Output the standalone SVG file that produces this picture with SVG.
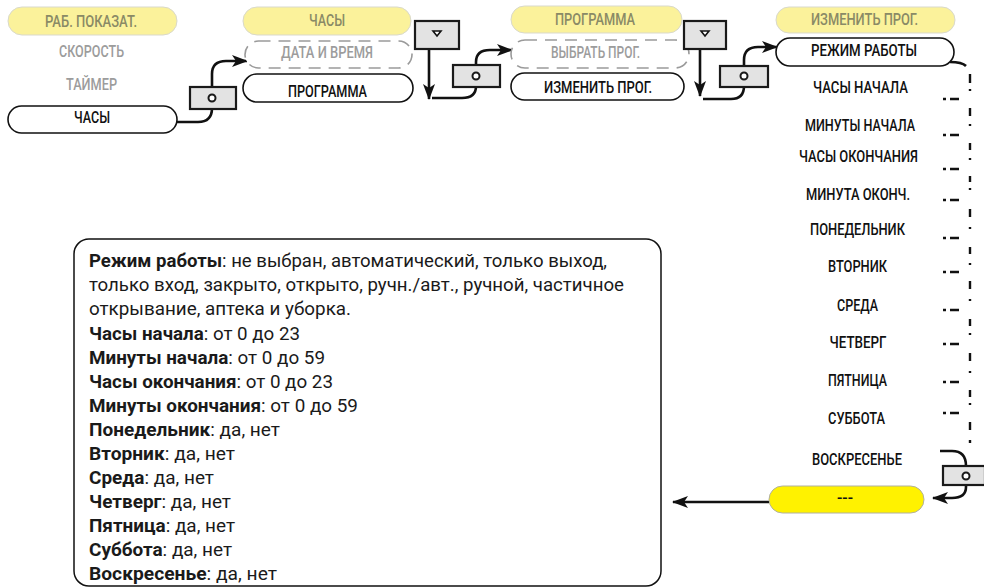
<svg xmlns="http://www.w3.org/2000/svg" width="984" height="588" viewBox="0 0 984 588">
<style>
.lbl{font-family:Roboto,"Liberation Sans",sans-serif;font-size:16px;font-weight:500;text-anchor:middle;fill:#111}
.yl{fill:#8a8a66}
.gr{fill:#9c9c9c}
.py{fill:#fbf29b;stroke:#d9d9cc;stroke-width:1}
.pw{fill:#fff;stroke:#111;stroke-width:1.6}
.pd{fill:#fff;stroke:#9a9a9a;stroke-width:1.6;stroke-dasharray:12 8}
.btn{fill:#e3e3e3;stroke:#1a1a1a;stroke-width:2.2}
.dot{fill:#fff;stroke:#1a1a1a;stroke-width:2}
.con{fill:none;stroke:#111;stroke-width:2.6}
.dsh{fill:none;stroke:#111;stroke-width:2.4}
.tx{font-family:Roboto,"Liberation Sans",sans-serif;font-size:18px;fill:#1a1a1a}
.tx tspan.b{font-weight:700}
</style>
<defs>
<marker id="ah" markerUnits="userSpaceOnUse" markerWidth="18" markerHeight="14" refX="15" refY="6" orient="auto">
<path d="M0,0 L16,6 L0,12 L4,6 z" fill="#111"/>
</marker>
</defs>

<g id="connectors">
<path class="con" d="M177,122 H198 Q212,122 212,108 V74 Q212,61 226,61 H247" marker-end="url(#ah)"/>
<path class="con" d="M429,49 V99" marker-end="url(#ah)"/>
<path class="con" d="M432,98 H462 Q476,98 476,86 V62 Q476,50 490,50 H512" marker-end="url(#ah)"/>
<path class="con" d="M700,49 V96" marker-end="url(#ah)"/>
<path class="con" d="M703,99 H731 Q744,99 744,86 V60 Q744,47 758,47 H777" marker-end="url(#ah)"/>
<path class="con" d="M950,62 Q962,62 966,66"/>
<path class="dsh" d="M970,74 V83 M970,89 V91 M943,99 h3 M950,99 h9
M970,108 V116 M970,124 V126 M943,135 h3 M950,135 h9
M970,143 V150 M970,158 V160 M943,169 h3 M950,169 h9
M970,176 V182 M970,188 V190 M943,200 h3 M950,200 h9
M970,209 V217 M970,227 V229 M943,238 h3 M950,238 h9
M970,247 V254 M970,263 V265 M943,272 h3 M950,272 h9
M970,281 V289 M970,299 V301 M943,310 h3 M950,310 h9
M970,319 V326 M970,333 V335 M943,344 h3 M950,344 h9
M970,353 V361 M970,371 V373 M943,382 h3 M950,382 h9
M970,390 V397 M970,403 V405 M943,413 h3 M950,413 h9
M970,422 V430 M970,440 V443"/>
<path class="con" d="M940,451 H952 Q966,451 966,466"/>
<path class="con" d="M966,485 V487 Q966,498 952,498 H933" marker-end="url(#ah)"/>
<path class="con" d="M769,502 H673" marker-end="url(#ah)"/>
</g>

<g id="n-rab-pokazat"><rect class="py" x="8" y="7" width="169" height="28" rx="14"/><text class="lbl yl" x="91" y="26.5" textLength="92" lengthAdjust="spacingAndGlyphs">РАБ. ПОКАЗАТ.</text></g>
<g id="n-skorost"><text class="lbl gr" x="91.5" y="57" textLength="65" lengthAdjust="spacingAndGlyphs">СКОРОСТЬ</text></g>
<g id="n-taimer"><text class="lbl gr" x="91.5" y="90" textLength="51" lengthAdjust="spacingAndGlyphs">ТАЙМЕР</text></g>
<g id="n-chasy1"><rect class="pw" x="8" y="106" width="169" height="27" rx="13.5"/><text class="lbl" x="92" y="122.5" textLength="36" lengthAdjust="spacingAndGlyphs">ЧАСЫ</text></g>

<g id="n-chasy2"><rect class="py" x="243" y="7" width="168" height="28" rx="14"/><text class="lbl yl" x="327" y="26" textLength="36" lengthAdjust="spacingAndGlyphs">ЧАСЫ</text></g>
<g id="n-data"><rect class="pd" x="245" y="41" width="167" height="27" rx="13.5"/><text class="lbl gr" x="327" y="58" textLength="92" lengthAdjust="spacingAndGlyphs">ДАТА И ВРЕМЯ</text></g>
<g id="n-programma2"><rect class="pw" x="243" y="74" width="170" height="28" rx="14"/><text class="lbl" x="327.5" y="97" textLength="79" lengthAdjust="spacingAndGlyphs">ПРОГРАММА</text></g>

<g id="n-programma3"><rect class="py" x="511" y="6" width="171" height="27" rx="13.5"/><text class="lbl yl" x="595" y="25" textLength="80" lengthAdjust="spacingAndGlyphs">ПРОГРАММА</text></g>
<g id="n-vybrat"><rect class="pd" x="511" y="40" width="178" height="28" rx="14"/><text class="lbl gr" x="595.5" y="58" textLength="89" lengthAdjust="spacingAndGlyphs">ВЫБРАТЬ ПРОГ.</text></g>
<g id="n-izmenit3"><rect class="pw" x="511" y="73" width="173" height="27" rx="13.5"/><text class="lbl" x="598" y="93" textLength="108" lengthAdjust="spacingAndGlyphs">ИЗМЕНИТЬ ПРОГ.</text></g>

<g id="n-izmenit4"><rect class="py" x="776" y="7" width="179" height="26" rx="13"/><text class="lbl yl" x="864.5" y="24.5" textLength="107" lengthAdjust="spacingAndGlyphs">ИЗМЕНИТЬ ПРОГ.</text></g>
<g id="n-rezhim"><rect class="pw" x="776" y="38" width="178" height="28" rx="14"/><text class="lbl" x="864" y="56" textLength="106" lengthAdjust="spacingAndGlyphs">РЕЖИМ РАБОТЫ</text></g>
<g id="n-chasy-nach"><text class="lbl" x="860.5" y="93" textLength="95" lengthAdjust="spacingAndGlyphs">ЧАСЫ НАЧАЛА</text></g>
<g id="n-min-nach"><text class="lbl" x="860" y="131" textLength="110" lengthAdjust="spacingAndGlyphs">МИНУТЫ НАЧАЛА</text></g>
<g id="n-chasy-okon"><text class="lbl" x="858.5" y="162" textLength="119" lengthAdjust="spacingAndGlyphs">ЧАСЫ ОКОНЧАНИЯ</text></g>
<g id="n-min-okon"><text class="lbl" x="858" y="200" textLength="104" lengthAdjust="spacingAndGlyphs">МИНУТА ОКОНЧ.</text></g>
<g id="n-pon"><text class="lbl" x="857.5" y="235" textLength="95" lengthAdjust="spacingAndGlyphs">ПОНЕДЕЛЬНИК</text></g>
<g id="n-vt"><text class="lbl" x="857.5" y="272" textLength="59" lengthAdjust="spacingAndGlyphs">ВТОРНИК</text></g>
<g id="n-sr"><text class="lbl" x="857.5" y="311" textLength="41" lengthAdjust="spacingAndGlyphs">СРЕДА</text></g>
<g id="n-cht"><text class="lbl" x="858" y="348" textLength="57" lengthAdjust="spacingAndGlyphs">ЧЕТВЕРГ</text></g>
<g id="n-pt"><text class="lbl" x="857.5" y="386" textLength="59" lengthAdjust="spacingAndGlyphs">ПЯТНИЦА</text></g>
<g id="n-sb"><text class="lbl" x="856.5" y="424" textLength="57" lengthAdjust="spacingAndGlyphs">СУББОТА</text></g>
<g id="n-vs"><text class="lbl" x="857" y="465" textLength="90" lengthAdjust="spacingAndGlyphs">ВОСКРЕСЕНЬЕ</text></g>
<g id="n-dash"><rect x="769" y="486" width="155" height="27" rx="13.5" fill="#fff200" stroke="#b0b0a0" stroke-width="1"/><text class="lbl" x="845" y="503" fill="#333" textLength="16" lengthAdjust="spacingAndGlyphs">---</text></g>

<g id="btn-o1"><rect class="btn" x="190" y="87" width="46" height="22"/><circle class="dot" cx="212" cy="98" r="3.5"/></g>
<g id="btn-down1"><rect class="btn" x="415" y="21" width="44" height="28"/><path d="M433,31 L441,31 L437,36 z" fill="#fff" stroke="#111" stroke-width="1.6"/></g>
<g id="btn-o2"><rect class="btn" x="453" y="65" width="47" height="22"/><circle class="dot" cx="476" cy="76" r="3.5"/></g>
<g id="btn-down2"><rect class="btn" x="684" y="21" width="42" height="28"/><path d="M701,31 L709,31 L705,36 z" fill="#fff" stroke="#111" stroke-width="1.6"/></g>
<g id="btn-o3"><rect class="btn" x="720" y="66" width="48" height="21"/><circle class="dot" cx="744" cy="76" r="3.5"/></g>
<g id="btn-o4"><rect class="btn" x="943" y="466" width="42" height="19"/><circle class="dot" cx="966" cy="476" r="3.5"/></g>

<g id="n-legend">
<rect x="74" y="239" width="587" height="347" rx="15" fill="#fff" stroke="#111" stroke-width="1.5"/>
<text class="tx" x="89" y="267" textLength="518" lengthAdjust="spacingAndGlyphs"><tspan class="b">Режим работы</tspan>: не выбран, автоматический, только выход,</text>
<text class="tx" x="89" y="291" textLength="535" lengthAdjust="spacingAndGlyphs">только вход, закрыто, открыто, ручн./авт., ручной, частичное</text>
<text class="tx" x="89" y="315" textLength="262" lengthAdjust="spacingAndGlyphs">открывание, аптека и уборка.</text>
<text class="tx" x="89" y="340" textLength="211" lengthAdjust="spacingAndGlyphs"><tspan class="b">Часы начала</tspan>: от 0 до 23</text>
<text class="tx" x="89" y="364" textLength="236" lengthAdjust="spacingAndGlyphs"><tspan class="b">Минуты начала</tspan>: от 0 до 59</text>
<text class="tx" x="89" y="388" textLength="244" lengthAdjust="spacingAndGlyphs"><tspan class="b">Часы окончания</tspan>: от 0 до 23</text>
<text class="tx" x="89" y="412" textLength="269" lengthAdjust="spacingAndGlyphs"><tspan class="b">Минуты окончания</tspan>: от 0 до 59</text>
<text class="tx" x="89" y="436" textLength="191" lengthAdjust="spacingAndGlyphs"><tspan class="b">Понедельник</tspan>: да, нет</text>
<text class="tx" x="89" y="460" textLength="146" lengthAdjust="spacingAndGlyphs"><tspan class="b">Вторник</tspan>: да, нет</text>
<text class="tx" x="89" y="484" textLength="125" lengthAdjust="spacingAndGlyphs"><tspan class="b">Среда</tspan>: да, нет</text>
<text class="tx" x="89" y="508" textLength="142" lengthAdjust="spacingAndGlyphs"><tspan class="b">Четверг</tspan>: да, нет</text>
<text class="tx" x="89" y="532" textLength="146" lengthAdjust="spacingAndGlyphs"><tspan class="b">Пятница</tspan>: да, нет</text>
<text class="tx" x="89" y="556" textLength="143" lengthAdjust="spacingAndGlyphs"><tspan class="b">Суббота</tspan>: да, нет</text>
<text class="tx" x="89" y="580" textLength="188" lengthAdjust="spacingAndGlyphs"><tspan class="b">Воскресенье</tspan>: да, нет</text>
</g>
</svg>
